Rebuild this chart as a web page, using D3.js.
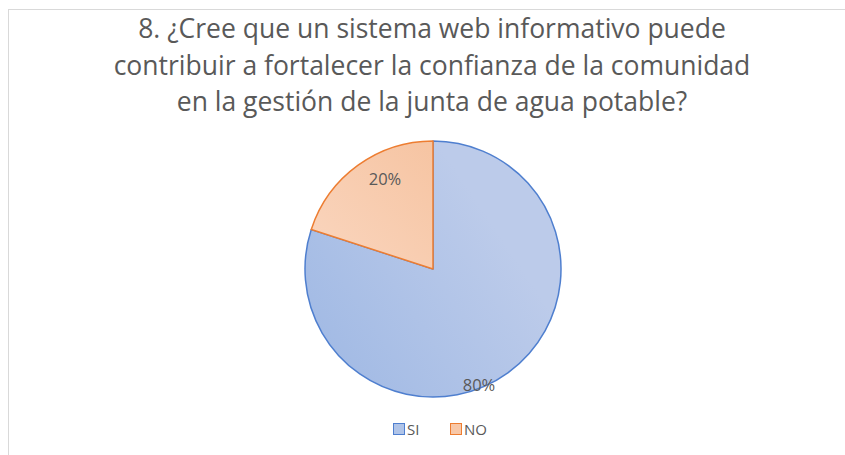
<!DOCTYPE html>
<html>
<head>
<meta charset="utf-8">
<script src="https://cdn.jsdelivr.net/npm/d3@7"></script>
<style>
  body { margin: 0; background: #fff; }
  svg { display: block; font-family: "Open Sans", "Noto Sans", sans-serif; }
</style>
</head>
<body>
<svg id="chart" width="845" height="455"></svg>
<script>
var titleLines = [
	'8. ¿Cree que un sistema web informativo puede',
	'contribuir a fortalecer la confianza de la comunidad',
	'en la gestión de la junta de agua potable?'
];
var categories = ['SI', 'NO'];
var values = [80, 20];
var labels = ['80%', '20%'];

var fills = {SI: 'url(#gradSI)', NO: 'url(#gradNO)'};
var strokes = {SI: '#4f7fcf', NO: '#ed7d31'};
var swatch = {SI: '#b0c4e8', NO: '#f8c8a8'};

var svg = d3.select('#chart');

// chart frame
svg.append('rect')
	.attr('x', 8.5).attr('y', 9.5)
	.attr('width', 845).attr('height', 460)
	.attr('fill', 'none')
	.attr('stroke', '#d9d9d9');

var defs = svg.append('defs');
var g1 = defs.append('linearGradient').attr('id', 'gradSI')
	.attr('x1', '0%').attr('y1', '85%').attr('x2', '75%').attr('y2', '35%');
g1.append('stop').attr('offset', '0%').attr('stop-color', '#a0b9e4');
g1.append('stop').attr('offset', '100%').attr('stop-color', '#bccbea');
var g2 = defs.append('linearGradient').attr('id', 'gradNO')
	.attr('x1', '100%').attr('y1', '0%').attr('x2', '0%').attr('y2', '100%');
g2.append('stop').attr('offset', '0%').attr('stop-color', '#f6c4a2');
g2.append('stop').attr('offset', '100%').attr('stop-color', '#fad6bf');

// title
svg.append('text')
	.attr('x', 432).attr('y', 38)
	.attr('text-anchor', 'middle')
	.attr('fill', '#595959')
	.style('font-size', '26.5px')
	.selectAll('tspan')
	.data(titleLines)
	.enter()
	.append('tspan')
	.attr('x', 432)
	.attr('dy', function(d, i) { return i == 0 ? 0 : 36.5; })
	.text(function(d) { return d; });

// pie
var cx = 433, cy = 269, r = 128;
var data = categories.map(function(c, i) { return {name: c, value: values[i], label: labels[i]}; });
var pie = d3.pie().sort(null).value(function(d) { return d.value; });
var arc = d3.arc().innerRadius(0).outerRadius(r);

var pg = svg.append('g').attr('transform', 'translate(' + cx + ',' + cy + ')');
var arcs = pie(data);

pg.selectAll('path')
	.data(arcs)
	.enter()
	.append('path')
	.attr('d', arc)
	.attr('fill', function(d) { return fills[d.data.name]; })
	.attr('stroke', function(d) { return strokes[d.data.name]; })
	.attr('stroke-width', 1.5)
	.attr('stroke-linejoin', 'round');

// data labels (Excel places them near the slice edge)
var labelPos = {SI: [46, 122], NO: [-48, -84]};
pg.selectAll('text.lbl')
	.data(arcs)
	.enter()
	.append('text')
	.attr('class', 'lbl')
	.attr('x', function(d) { return labelPos[d.data.name][0]; })
	.attr('y', function(d) { return labelPos[d.data.name][1]; })
	.attr('text-anchor', 'middle')
	.attr('fill', '#595959')
	.style('font-size', '16.5px')
	.text(function(d) { return d.data.label; });

// legend
var legendX = [393, 450];
var lg = svg.selectAll('g.legend')
	.data(categories)
	.enter()
	.append('g')
	.attr('class', 'legend')
	.attr('transform', function(d, i) { return 'translate(' + legendX[i] + ',423)'; });
lg.append('rect')
	.attr('x', 0.5).attr('y', 0.5)
	.attr('width', 11).attr('height', 11)
	.attr('fill', function(d) { return swatch[d]; })
	.attr('stroke', function(d) { return strokes[d]; });
lg.append('text')
	.attr('x', 14).attr('y', 12)
	.attr('fill', '#595959')
	.style('font-size', '15px')
	.text(function(d) { return d; });
</script>
</body>
</html>
